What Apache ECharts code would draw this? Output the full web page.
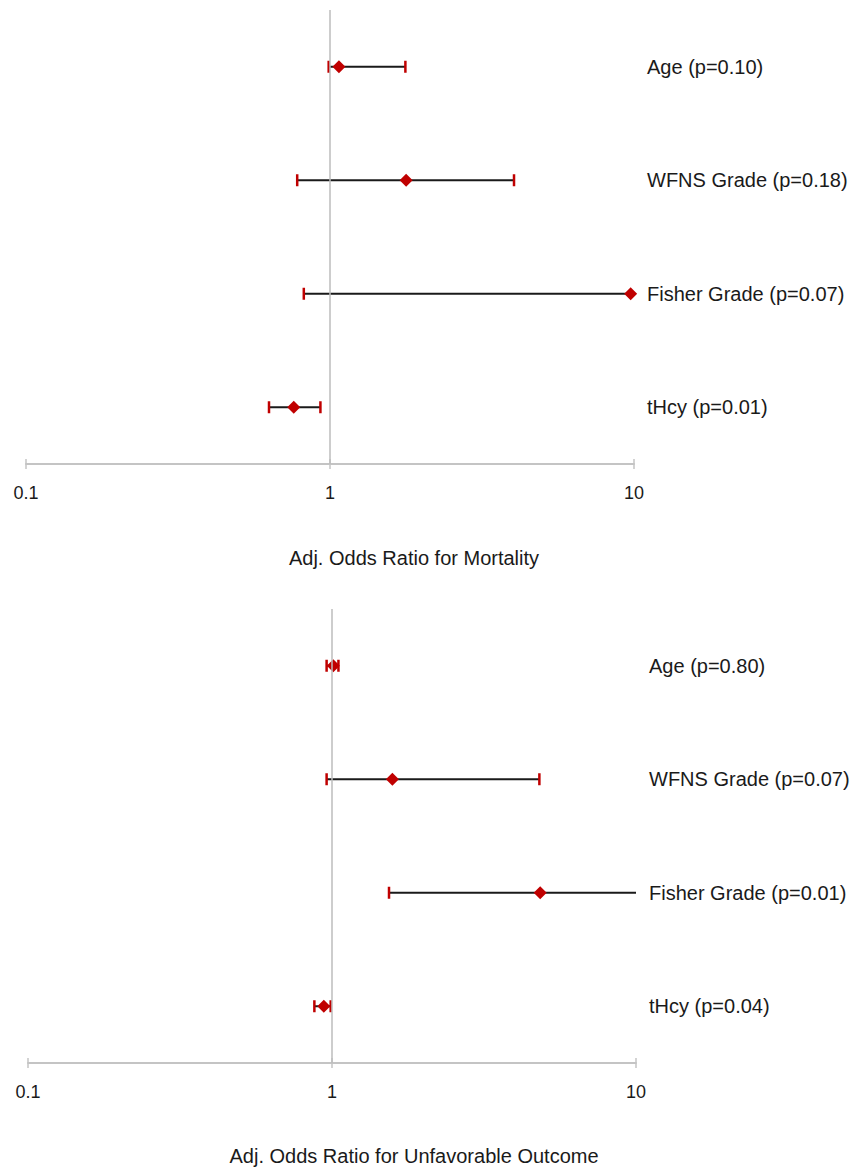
<!DOCTYPE html>
<html>
<head>
<meta charset="utf-8">
<script src="https://cdn.jsdelivr.net/npm/echarts@6/dist/echarts.min.js"></script>
<style>
html,body{margin:0;padding:0;background:#fff;}
#chart{width:861px;height:1169px;}
</style>
</head>
<body>
<div id="chart"></div>
<script>
// ---- data ----
const mortalityLabels = ['Age (p=0.10)', 'WFNS Grade (p=0.18)', 'Fisher Grade (p=0.07)', 'tHcy (p=0.01)'];
const mortalityOR     = [1.07, 1.78, 9.75, 0.76];
const mortalityLower  = [0.99, 0.78, 0.82, 0.63];
const mortalityUpper  = [1.77, 4.03, 20, 0.93];   // Fisher upper bound runs past the axis

const unfavLabels = ['Age (p=0.80)', 'WFNS Grade (p=0.07)', 'Fisher Grade (p=0.01)', 'tHcy (p=0.04)'];
const unfavOR     = [1.01, 1.58, 4.84, 0.94];
const unfavLower  = [0.96, 0.96, 1.54, 0.875];
const unfavUpper  = [1.05, 4.81, 20, 0.99];      // Fisher upper bound runs past the axis

const tickValues = [0.1, 1, 10];
const axisTitles = ['Adj. Odds Ratio for Mortality', 'Adj. Odds Ratio for Unfavorable Outcome'];

// ---- build ----
function rows(lower, or, upper) {
  return or.map((v, i) => [lower[i], v, upper[i], i]);
}

const RED = '#c00000';
const FONT = 'Liberation Sans, Arial, sans-serif';

function renderItem(params, api) {
  const cs = params.coordSys;
  const xMin = cs.x, xMax = cs.x + cs.width;
  const y = api.value(3);
  const lo = api.coord([api.value(0), y]);
  const pt = api.coord([api.value(1), y]);
  const hi = api.coord([api.value(2), y]);
  const cy = pt[1];
  const x1 = Math.max(lo[0], xMin), x2 = Math.min(hi[0], xMax);
  const children = [{
    type: 'line',
    shape: {x1: x1, y1: cy, x2: x2, y2: cy},
    style: {stroke: '#1a1a1a', lineWidth: 2}
  }];
  [lo[0], hi[0]].forEach(function (x) {
    if (x >= xMin - 0.5 && x <= xMax + 0.5) {
      children.push({
        type: 'line',
        shape: {x1: x, y1: cy - 6, x2: x, y2: cy + 6},
        style: {stroke: RED, lineWidth: 2.5}
      });
    }
  });
  const h = 6.5;
  children.push({
    type: 'polygon',
    shape: {points: [[pt[0], cy - h], [pt[0] + h, cy], [pt[0], cy + h], [pt[0] - h, cy]]},
    style: {fill: RED}
  });
  return {type: 'group', children: children};
}

function mainX(gridIndex) {
  return {
    type: 'log', logBase: 10, min: 0.1, max: 10, gridIndex: gridIndex, position: 'bottom',
    axisLine: {show: true, lineStyle: {color: '#c4c4c4', width: 2}},
    axisTick: {show: true, inside: false, length: 5, lineStyle: {color: '#c4c4c4', width: 1.5}},
    axisLabel: {
      show: true, margin: 20, fontSize: 18, color: '#1a1a1a', fontFamily: FONT,
      formatter: function (v) {
        for (const t of tickValues) { if (Math.abs(v - t) < 1e-6 * t) return String(t); }
        return '';
      }
    },
    splitLine: {show: false},
    minorTick: {show: false}
  };
}
function overlayX(gridIndex) {
  return {
    type: 'log', logBase: 10, min: 0.1, max: 10, gridIndex: gridIndex, position: 'bottom', offset: 0,
    axisLine: {show: false, onZero: false},
    axisTick: {show: true, inside: true, length: 5, lineStyle: {color: '#c4c4c4', width: 1.5}},
    axisLabel: {show: false},
    splitLine: {show: false}
  };
}
function catY(gridIndex, labels) {
  return {
    type: 'category', gridIndex: gridIndex, data: labels, inverse: true, position: 'right',
    boundaryGap: true,
    axisLine: {show: false}, axisTick: {show: false}, splitLine: {show: false},
    axisLabel: {show: true, margin: 13, align: 'left', fontSize: 20, color: '#1a1a1a', fontFamily: FONT}
  };
}

function refLine() {
  return {
    silent: true, symbol: ['none', 'none'], label: {show: false},
    lineStyle: {color: '#bdbdbd', width: 1.5, type: 'solid'},
    data: [{xAxis: 1}]
  };
}

const option = {
  animation: false,
  backgroundColor: '#ffffff',
  grid: [
    {left: 26, top: 10, width: 608, height: 454, containLabel: false},
    {left: 28, top: 609, width: 608, height: 454, containLabel: false}
  ],
  xAxis: [mainX(0), mainX(1), overlayX(0), overlayX(1)],
  yAxis: [catY(0, mortalityLabels), catY(1, unfavLabels)],
  series: [
    {
      type: 'custom', xAxisIndex: 0, yAxisIndex: 0, clip: false,
      renderItem: renderItem,
      data: rows(mortalityLower, mortalityOR, mortalityUpper),
      markLine: refLine(), z: 3
    },
    {
      type: 'custom', xAxisIndex: 1, yAxisIndex: 1, clip: false,
      renderItem: renderItem,
      data: rows(unfavLower, unfavOR, unfavUpper),
      markLine: refLine(), z: 3
    }
  ],
  graphic: [
    {type: 'text', x: 414, y: 558, style: {text: axisTitles[0], fontSize: 20, fontFamily: FONT, fill: '#1a1a1a', textAlign: 'center', textVerticalAlign: 'middle'}},
    {type: 'text', x: 414, y: 1156, style: {text: axisTitles[1], fontSize: 20, fontFamily: FONT, fill: '#1a1a1a', textAlign: 'center', textVerticalAlign: 'middle'}}
  ]
};

const chart = echarts.init(document.getElementById('chart'), null, {renderer: 'svg'});
chart.setOption(option);
</script>
</body>
</html>
